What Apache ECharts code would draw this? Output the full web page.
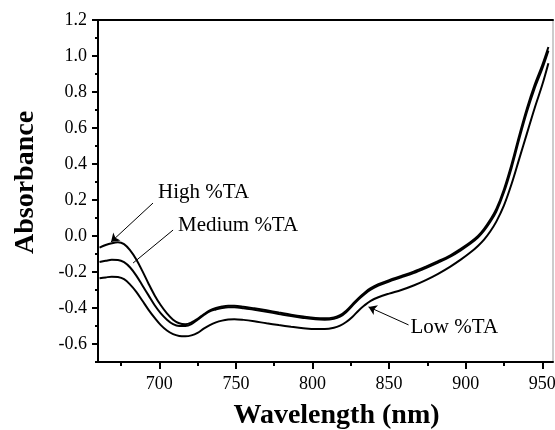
<!DOCTYPE html>
<html>
<head>
<meta charset="utf-8">
<script src="https://cdn.jsdelivr.net/npm/echarts@6/dist/echarts.min.js"></script>
<style>html,body{margin:0;padding:0;background:#fff}#c{width:555px;height:430px}</style>
</head>
<body>
<div id="c"></div>
<script>
var wavelength = [661,665,669,673,677,681,685,689,693,697,701,705,709,713,717,721,725,729,733,737,741,745,749,755,762,770,778,786,794,802,808,814,818,822,826,830,834,838,843,850,858,866,874,882,890,897,903,908,912,916,920,925,930,935,940,945,950,954];
var highTA = [-0.065,-0.05,-0.04,-0.035,-0.045,-0.08,-0.13,-0.195,-0.265,-0.33,-0.385,-0.43,-0.465,-0.485,-0.49,-0.48,-0.46,-0.435,-0.413,-0.4,-0.392,-0.388,-0.388,-0.393,-0.402,-0.413,-0.425,-0.437,-0.447,-0.455,-0.457,-0.452,-0.44,-0.415,-0.38,-0.345,-0.315,-0.29,-0.268,-0.245,-0.222,-0.198,-0.17,-0.14,-0.107,-0.07,-0.035,0.0,0.04,0.09,0.15,0.26,0.4,0.56,0.71,0.84,0.95,1.05];
var mediumTA = [-0.145,-0.138,-0.132,-0.133,-0.145,-0.175,-0.22,-0.275,-0.33,-0.385,-0.43,-0.465,-0.49,-0.5,-0.5,-0.49,-0.465,-0.44,-0.418,-0.408,-0.4,-0.396,-0.396,-0.401,-0.41,-0.421,-0.433,-0.445,-0.455,-0.463,-0.465,-0.46,-0.448,-0.423,-0.388,-0.353,-0.323,-0.298,-0.276,-0.253,-0.23,-0.206,-0.178,-0.148,-0.115,-0.078,-0.043,-0.008,0.03,0.078,0.136,0.243,0.38,0.54,0.69,0.82,0.93,1.03];
var lowTA = [-0.235,-0.23,-0.226,-0.228,-0.24,-0.27,-0.31,-0.36,-0.41,-0.455,-0.495,-0.525,-0.545,-0.555,-0.557,-0.552,-0.538,-0.515,-0.495,-0.48,-0.47,-0.464,-0.462,-0.466,-0.474,-0.485,-0.495,-0.504,-0.512,-0.517,-0.517,-0.51,-0.498,-0.478,-0.45,-0.415,-0.385,-0.36,-0.34,-0.32,-0.3,-0.275,-0.245,-0.21,-0.17,-0.13,-0.092,-0.055,-0.02,0.025,0.08,0.17,0.29,0.43,0.57,0.71,0.84,0.96];
var xMajorTicks = [700,750,800,850,900,950];
var xMinorTicks = [675,725,775,825,875,925];
var yMajorTicks = [-0.6,-0.4,-0.2,0.0,0.2,0.4,0.6,0.8,1.0,1.2];
var yMinorTicks = [-0.7,-0.5,-0.3,-0.1,0.1,0.3,0.5,0.7,0.9,1.1];
var seriesNames = ['High %TA','Medium %TA','Low %TA'];

function pairs(vals){ return wavelength.map(function(w,i){ return [w, vals[i]]; }); }

var SERIF = '"Liberation Serif", "Times New Roman", serif';
var XMIN = 660, XMAX = 957, YMIN = -0.7, YMAX = 1.2;

var annLabel = {show:true, position:'right', distance:0, color:'#000', fontFamily:SERIF, fontSize:21};
function lineSeries(name, vals, arrow, label){
  return {
    name: name, type:'line', data: pairs(vals), smooth:0.35, showSymbol:false,
    lineStyle:{color:'#000', width:2}, silent:true, animation:false, z:3,
    markLine:{silent:true, animation:false, symbol:['none', arrow.head ? 'arrow':'none'], symbolSize:8,
      lineStyle:{color:'#000', width:1, type:'solid'}, label:{show:false},
      data:[[{coord:arrow.from},{coord:arrow.to}]]},
    markPoint:{silent:true, animation:false, symbol:'circle', symbolSize:0,
      data:[{coord:label.at, label:Object.assign({formatter:name}, annLabel)}]}
  };
}

var chart = echarts.init(document.getElementById('c'));
chart.setOption({
  backgroundColor:'#fff',
  animation:false,
  grid:{left:98, right:2, top:20, bottom:68, show:true, borderColor:'#999', borderWidth:1, outerBoundsMode:'none'},
  xAxis:[{
    type:'value', min:XMIN, max:XMAX, position:'bottom',
    name:'Wavelength (nm)', nameLocation:'middle', nameGap:40,
    nameTextStyle:{fontFamily:SERIF, fontWeight:'bold', fontSize:28, color:'#000', padding:[0,0,0,22]},
    axisLine:{show:true, onZero:false, lineStyle:{color:'#000', width:2}},
    axisTick:{show:true, inside:false, length:7, lineStyle:{color:'#000', width:2}, customValues:xMajorTicks},
    axisLabel:{show:true, margin:13, color:'#000', fontFamily:SERIF, fontSize:18, customValues:xMajorTicks},
    splitLine:{show:false}
  },{
    type:'value', min:XMIN, max:XMAX, position:'bottom',
    axisLine:{show:false, onZero:false},
    axisTick:{show:true, inside:false, length:4, lineStyle:{color:'#000', width:2}, customValues:xMinorTicks},
    axisLabel:{show:false}, splitLine:{show:false}
  },{
    type:'value', min:XMIN, max:XMAX, position:'top',
    axisLine:{show:true, onZero:false, lineStyle:{color:'#000', width:2}},
    axisTick:{show:false}, axisLabel:{show:false}, splitLine:{show:false}
  }],
  yAxis:[{
    type:'value', min:YMIN, max:YMAX, position:'left',
    name:'Absorbance', nameLocation:'middle', nameGap:58,
    nameTextStyle:{fontFamily:SERIF, fontWeight:'bold', fontSize:28, color:'#000', padding:[0,0,0,17]},
    axisLine:{show:true, onZero:false, lineStyle:{color:'#000', width:2}},
    axisTick:{show:true, inside:false, length:6, lineStyle:{color:'#000', width:2}, customValues:yMajorTicks},
    axisLabel:{show:true, margin:11, color:'#000', fontFamily:SERIF, fontSize:18, customValues:yMajorTicks,
      formatter:function(v){ return v.toFixed(1); }},
    splitLine:{show:false}
  },{
    type:'value', min:YMIN, max:YMAX, position:'left',
    axisLine:{show:false, onZero:false},
    axisTick:{show:true, inside:false, length:3, lineStyle:{color:'#000', width:2}, customValues:yMinorTicks},
    axisLabel:{show:false}, splitLine:{show:false}
  }],
  series:[
    lineSeries(seriesNames[0], highTA, {from:[695.9,0.183], to:[668.5,-0.033], head:true}, {at:[699.2,0.244]}),
    lineSeries(seriesNames[1], mediumTA, {from:[709,0.033], to:[682.9,-0.15], head:false}, {at:[712.2,0.061]}),
    lineSeries(seriesNames[2], lowTA, {from:[862.7,-0.494], to:[836.6,-0.394], head:true}, {at:[864,-0.506]})
  ]
});
</script>
</body>
</html>
